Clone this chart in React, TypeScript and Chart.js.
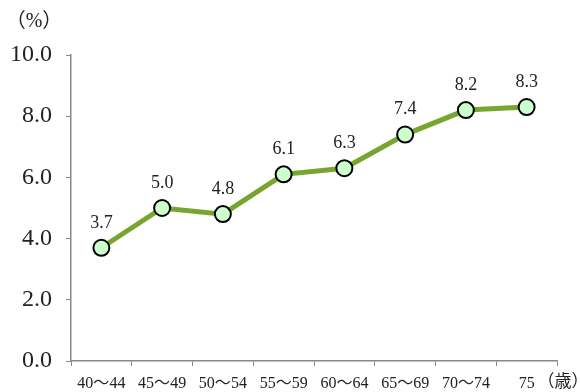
import React, { useEffect, useRef } from "react";
import { Chart, registerables } from "chart.js";

Chart.register(...registerables);

const categories = ["40～44", "45～49", "50～54", "55～59", "60～64", "65～69", "70～74", "75"];
const values = [3.7, 5.0, 4.8, 6.1, 6.3, 7.4, 8.2, 8.3];
const yTicks = [0, 2, 4, 6, 8, 10];
const yUnit = "（%）";
const xUnit = "（歳）";

const SERIF = "'Liberation Serif', 'DejaVu Serif', 'Noto Sans CJK JP', serif";

export default function App() {
  const ref = useRef<HTMLCanvasElement | null>(null);
  useEffect(() => {
    if (!ref.current) return;
    const labelPlugin = {
      id: "labels",
      afterDatasetsDraw(chart: any) {
        const ctx = chart.ctx;
        const meta = chart.getDatasetMeta(0);
        ctx.save();
        ctx.fillStyle = "#222";
        ctx.font = `18px ${SERIF}`;
        ctx.textAlign = "center";
        ctx.textBaseline = "middle";
        meta.data.forEach((pt: any, i: number) => {
          ctx.fillText(values[i].toFixed(1), pt.x, pt.y - 25);
        });
        ctx.font = `20px ${SERIF}`;
        ctx.fillText(yUnit, 34, 22);
        ctx.font = `17px ${SERIF}`;
        ctx.fillText(xUnit, 563, 383);
        ctx.restore();
      },
    };
    const chart = new Chart(ref.current, {
      type: "line",
      data: {
        labels: categories,
        datasets: [
          {
            data: values,
            borderColor: "#78a530",
            borderWidth: 5,
            pointRadius: 8,
            pointHoverRadius: 8,
            pointBackgroundColor: "#ccffcc",
            pointBorderColor: "#000",
            pointBorderWidth: 2,
            tension: 0,
          },
        ],
      },
      options: {
        responsive: false,
        animation: false,
        layout: { padding: { top: 55, right: 23, left: 0, bottom: 0 } },
        plugins: { legend: { display: false }, tooltip: { enabled: false } },
        scales: {
          x: {
            type: "category",
            offset: true,
            grid: {
              offset: true,
              drawOnChartArea: false,
              drawTicks: true,
              tickLength: 5,
              color: "#888",
            },
            border: { color: "#888", width: 1.5 },
            ticks: {
              color: "#222",
              font: { family: SERIF, size: 16 },
              padding: 8,
              maxRotation: 0,
              autoSkip: false,
            },
            afterFit: (s: any) => {
              s.height = 31;
            },
          },
          y: {
            min: 0,
            max: 10,
            afterBuildTicks: (s: any) => {
              s.ticks = yTicks.map((v) => ({ value: v }));
            },
            grid: {
              drawOnChartArea: false,
              drawTicks: true,
              tickLength: 5,
              color: "#888",
            },
            border: { color: "#888", width: 1.5 },
            ticks: {
              color: "#222",
              font: { family: SERIF, size: 24 },
              padding: 14,
              callback: (v: any) => Number(v).toFixed(1),
            },
            afterFit: (s: any) => {
              s.width = 71;
            },
          },
        },
      },
      plugins: [labelPlugin],
    } as any);
    return () => chart.destroy();
  }, []);
  return (
    <div style={{ position: "fixed", left: 0, top: 0, width: 580, height: 392, background: "#fff" }}>
      <canvas ref={ref} width={580} height={392} style={{ width: 580, height: 392 }} />
    </div>
  );
}
